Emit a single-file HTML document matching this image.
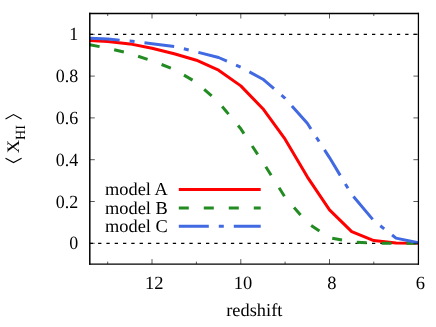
<!DOCTYPE html><html><head><meta charset="utf-8"><style>html,body{margin:0;padding:0;background:#fff}svg{display:block;will-change:transform}text{font-family:"Liberation Serif",serif;fill:#000;text-rendering:geometricPrecision}</style></head><body>
<svg width="436" height="327" viewBox="0 0 436 327">
<rect width="436" height="327" fill="#fff"/>
<line x1="89.8" y1="243.3" x2="418.4" y2="243.3" stroke="#000" stroke-width="1.15" stroke-dasharray="3.3 5"/>
<line x1="89.8" y1="34.3" x2="418.4" y2="34.3" stroke="#000" stroke-width="1.15" stroke-dasharray="3.3 5"/>
<polyline points="89.8,40.4 107.7,41.6 129.9,43.9 152.0,48.3 174.2,53.7 196.4,60.2 218.6,70.2 240.8,85.9 262.9,108.7 285.1,139.2 307.3,176.8 329.5,209.9 351.7,231.6 373.8,240.6 396.0,243.1 418.2,243.3" fill="none" stroke="#ff0000" stroke-width="3.0" stroke-linejoin="round"/>
<polyline points="89.8,44.8 107.7,48.1 129.9,53.5 152.0,60.8 174.2,69.4 196.4,82.4 218.6,102.2 240.8,128.8 262.9,162.2 285.1,197.3 307.3,222.8 329.5,237.7 351.7,241.8 373.8,243.3 396.0,243.3 418.2,243.3" fill="none" stroke="#228b22" stroke-width="3.0" stroke-dasharray="9.95 14.91" stroke-linejoin="round"/>
<polyline points="89.8,38.3 107.7,39.1 129.9,41.0 152.0,43.7 174.2,46.4 196.4,51.9 218.6,57.5 240.8,67.3 262.9,79.2 285.1,98.3 307.3,123.3 329.5,157.6 351.7,194.4 373.8,220.7 396.0,238.1 418.2,242.7" fill="none" stroke="#4169e1" stroke-width="3.0" stroke-dasharray="29.93 9.98 4.99 9.97" stroke-linejoin="round"/>
<line x1="178.8" y1="189.5" x2="260.7" y2="189.5" stroke="#ff0000" stroke-width="3.0"/>
<line x1="178.8" y1="208.0" x2="260.7" y2="208.0" stroke="#228b22" stroke-width="3.0" stroke-dasharray="10 15"/>
<line x1="178.8" y1="226.3" x2="260.7" y2="226.3" stroke="#4169e1" stroke-width="3.0" stroke-dasharray="30 10 5 10"/>
<text transform="translate(167.80,195.30) scale(1.010,1)" font-size="18.20" text-anchor="end">model A</text>
<text transform="translate(167.80,213.70) scale(1.010,1)" font-size="18.20" text-anchor="end">model B</text>
<text transform="translate(167.80,232.10) scale(1.010,1)" font-size="18.20" text-anchor="end">model C</text>
<path d="M329.5 264.1 v-5.0 M329.5 13.5 v5.0 M240.8 264.1 v-5.0 M240.8 13.5 v5.0 M152.0 264.1 v-5.0 M152.0 13.5 v5.0 M373.8 264.1 v-2.5 M373.8 13.5 v2.5 M285.1 264.1 v-2.5 M285.1 13.5 v2.5 M196.4 264.1 v-2.5 M196.4 13.5 v2.5 M107.7 264.1 v-2.5 M107.7 13.5 v2.5 M89.8 243.3 h5.0 M418.4 243.3 h-5.0 M89.8 201.5 h5.0 M418.4 201.5 h-5.0 M89.8 159.7 h5.0 M418.4 159.7 h-5.0 M89.8 117.9 h5.0 M418.4 117.9 h-5.0 M89.8 76.1 h5.0 M418.4 76.1 h-5.0 M89.8 34.3 h5.0 M418.4 34.3 h-5.0" stroke="#000" stroke-width="0.65" fill="none"/>
<path d="M89.80 12.80 V264.80" stroke="#000" stroke-width="1.5" fill="none"/>
<path d="M418.42 12.80 V264.80" stroke="#000" stroke-width="1.25" fill="none"/>
<path d="M89.05 13.50 H419.04" stroke="#000" stroke-width="1.4" fill="none"/>
<path d="M89.05 264.08 H419.04" stroke="#000" stroke-width="1.4" fill="none"/>
<text transform="translate(78.20,249.35) scale(0.960,1)" font-size="18.70" text-anchor="end">0</text>
<text transform="translate(78.20,207.55) scale(0.960,1)" font-size="18.70" text-anchor="end">0.2</text>
<text transform="translate(78.20,165.75) scale(0.960,1)" font-size="18.70" text-anchor="end">0.4</text>
<text transform="translate(78.20,123.95) scale(0.960,1)" font-size="18.70" text-anchor="end">0.6</text>
<text transform="translate(78.20,82.15) scale(0.960,1)" font-size="18.70" text-anchor="end">0.8</text>
<text transform="translate(78.20,40.35) scale(0.960,1)" font-size="18.70" text-anchor="end">1</text>
<text transform="translate(420.50,288.90) scale(0.990,1)" font-size="18.70" text-anchor="middle">6</text>
<text transform="translate(331.78,288.90) scale(0.990,1)" font-size="18.70" text-anchor="middle">8</text>
<text transform="translate(243.06,288.90) scale(0.990,1)" font-size="18.70" text-anchor="middle">10</text>
<text transform="translate(154.34,288.90) scale(0.990,1)" font-size="18.70" text-anchor="middle">12</text>
<text transform="translate(254.30,315.50) scale(1.010,1)" font-size="18.20" text-anchor="middle">redshift</text>
<g transform="translate(18.8,153.2) rotate(-90)"><text transform="scale(1.05,1)" x="0" y="0" font-size="17.5">X</text><text x="13.3" y="6" font-size="14.0">HI</text></g>
<path d="M5.5 158.2 L13.5 162.6 L21.6 158.2 M5.5 119 L13.5 114.6 L21.6 119" fill="none" stroke="#000" stroke-width="1.1"/>
</svg></body></html>
